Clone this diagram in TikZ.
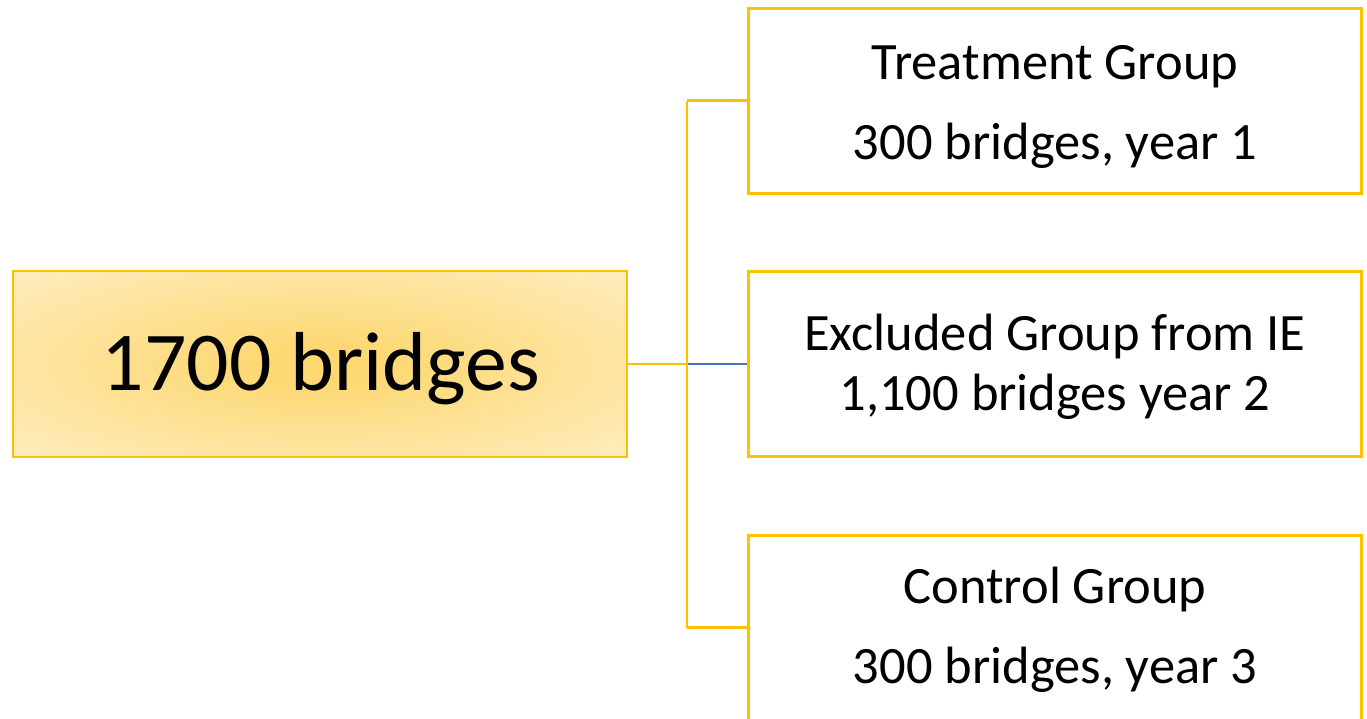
\documentclass[tikz,border=0pt]{standalone}
\usepackage{fontspec}
\setmainfont{Carlito}
\definecolor{gold}{HTML}{FFC000}
\definecolor{linkblue}{HTML}{4472C4}
\definecolor{shadein}{RGB}{253,216,115}
\definecolor{shadeout}{RGB}{255,243,215}
\pgfdeclareradialshading{goldrad}{\pgfpoint{0bp}{0bp}}{color(0bp)=(shadein); color(5bp)=(shadein); color(45bp)=(shadeout); color(75bp)=(shadeout)}
\begin{document}
\begin{tikzpicture}[x=1pt,y=-1pt,
  groupbox/.style={draw=gold, line width=3pt, minimum width=613pt, minimum height=185pt, inner sep=0pt},
  mainbox/.style={draw=gold, line width=2pt, shading=goldrad, minimum width=614pt, minimum height=186pt, inner sep=0pt},
  bigtxt/.style={anchor=base, inner sep=0pt, font=\fontsize{83.7}{98}\selectfont},
  smalltxt/.style={anchor=base, inner sep=0pt, font=\fontsize{52.5}{60}\selectfont},
  link/.style={draw=gold, line width=2.5pt},
  bluelink/.style={draw=linkblue, line width=2pt}]
\useasboundingbox (0,0) rectangle (1367,718);
\clip (0,0) rectangle (1367,718);
% boxes
\node[mainbox] (main) at (320,364) {};
\node[groupbox] (treat) at (1054.5,100.5) {};
\node[groupbox] (excl) at (1054.5,364) {};
\node[groupbox] (ctrl) at (1054.5,627.5) {};
% texts
\node[bigtxt] (t0) at (321,390) {1700 bridges};
\node[smalltxt] (t1a) at (1055,79) {Treatment Group};
\node[smalltxt] (t1b) at (1055,159) {300 bridges, year 1};
\node[smalltxt] (t2a) at (1055,350) {Excluded Group from IE};
\node[smalltxt] (t2b) at (1055,410) {1,100 bridges year 2};
\node[smalltxt] (t3a) at (1055,603) {Control Group};
\node[smalltxt] (t3b) at (1055,683) {300 bridges, year 3};
% connectors
\coordinate (jmid) at (687,364);
\coordinate (jtop) at (687,100.5);
\coordinate (jbot) at (687,627.5);
\draw[link] (main.east) -- (jmid);
\draw[bluelink] (jmid) -- (excl.west);
\draw[link] (jtop) -- (jbot);
\draw[link] (jtop) -- (treat.west);
\draw[link] (jbot) -- (ctrl.west);
\end{tikzpicture}
\end{document}
